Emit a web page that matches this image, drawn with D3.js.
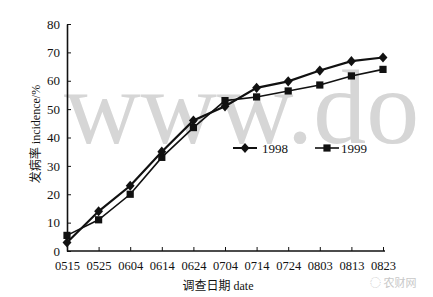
<!DOCTYPE html>
<html>
<head>
<meta charset="utf-8">
<script src="https://cdn.jsdelivr.net/npm/d3@7"></script>
<style>
  body { margin: 0; background: #fff; }
  svg { display: block; }
  text { font-family: "Liberation Serif", "Noto Sans CJK SC", serif; fill: #111; }
</style>
</head>
<body>
<svg width="433" height="297"></svg>
<script>
const dates = ["0515", "0525", "0604", "0614", "0624", "0704", "0714", "0724", "0803", "0813", "0823"];
const s1998 = [3, 14, 23, 35, 46, 51, 57.5, 59.8, 63.6, 66.9, 68.2];
const s1999 = [5.5, 11, 20, 33, 43.5, 53, 54.3, 56.4, 58.5, 61.7, 64];
const yTicks = [0, 10, 20, 30, 40, 50, 60, 70, 80];

var svg = d3.select("svg");

var x = d3.scalePoint().domain(dates).range([67, 383]),
    y = d3.scaleLinear().domain([0, 80]).range([251, 24]);

// watermark
svg.append("text")
   .attr("x", 64).attr("y", 143)
   .style("font-size", "106px")
   .style("fill", "#d6d6d6")
   .text("www.do");

svg.append("text")
   .attr("x", 370).attr("y", 287)
   .style("font-size", "11px")
   .style("fill", "#c8c8c8")
   .style("font-family", "Noto Sans CJK SC")
   .text("◌ 农财网");

// axes
var yAxis = svg.append("g")
               .attr("transform", "translate(67,0)")
               .call(d3.axisLeft(y).tickValues(yTicks).tickSizeInner(-4).tickSizeOuter(0).tickPadding(7));

var xAxis = svg.append("g")
               .attr("transform", "translate(0,251)")
               .call(d3.axisBottom(x).tickSizeInner(-4).tickSizeOuter(0).tickPadding(10));

svg.selectAll(".domain").attr("stroke", "#111").attr("stroke-width", 1.6);
svg.selectAll(".tick line").attr("stroke", "#111");
yAxis.selectAll("text").style("font-size", "13px").style("font-family", "Liberation Serif");
xAxis.selectAll("text").style("font-size", "12.5px").style("font-family", "Liberation Serif");
xAxis.select(".domain").attr("d", "M67,0H385");

// titles
svg.append("text")
   .attr("transform", "translate(40,134) rotate(-90)")
   .attr("text-anchor", "middle")
   .style("font-size", "12px")
   .text("发病率 incidence/%");

svg.append("text")
   .attr("x", 218).attr("y", 290)
   .attr("text-anchor", "middle")
   .style("font-size", "12px")
   .text("调查日期 date");

// series
var line = d3.line().x((d, i) => x(dates[i])).y(d => y(d));

svg.append("path")
   .datum(s1999)
   .attr("fill", "none")
   .attr("stroke", "#111")
   .attr("stroke-width", 1.6)
   .attr("d", line);

svg.append("path")
   .datum(s1998)
   .attr("fill", "none")
   .attr("stroke", "#111")
   .attr("stroke-width", 2.2)
   .attr("d", line);

var diamond = d3.symbol().type(d3.symbolDiamond2).size(50),
    square = d3.symbol().type(d3.symbolSquare).size(52);

svg.append("g").selectAll("path")
   .data(s1999)
   .enter().append("path")
   .attr("transform", (d, i) => `translate(${x(dates[i])},${y(d)})`)
   .attr("d", square)
   .attr("fill", "#111");

svg.append("g").selectAll("path")
   .data(s1998)
   .enter().append("path")
   .attr("transform", (d, i) => `translate(${x(dates[i])},${y(d)}) scale(1,1.15)`)
   .attr("d", diamond)
   .attr("fill", "#111");

// legend
var legend = svg.append("g");
legend.append("line").attr("x1", 233).attr("x2", 257).attr("y1", 148).attr("y2", 148)
      .attr("stroke", "#111").attr("stroke-width", 2);
legend.append("path").attr("transform", "translate(245,148) scale(1,1.15)").attr("d", diamond).attr("fill", "#111");
legend.append("text").attr("x", 262).attr("y", 153).style("font-size", "13px").text("1998");

legend.append("line").attr("x1", 315).attr("x2", 339).attr("y1", 148).attr("y2", 148)
      .attr("stroke", "#111").attr("stroke-width", 1.6);
legend.append("path").attr("transform", "translate(327,148)").attr("d", square).attr("fill", "#111");
legend.append("text").attr("x", 341).attr("y", 153).style("font-size", "13px").text("1999");
</script>
</body>
</html>
